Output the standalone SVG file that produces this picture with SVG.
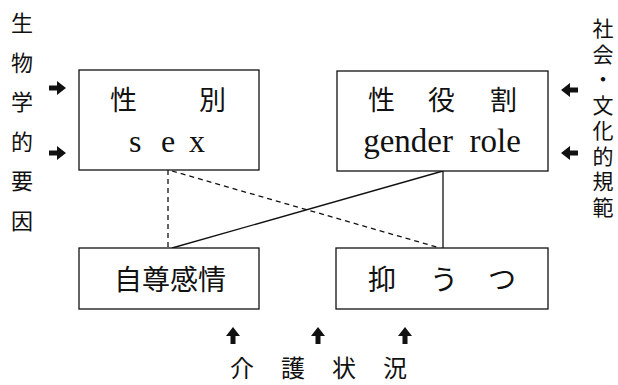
<svg xmlns="http://www.w3.org/2000/svg" width="618" height="385" viewBox="0 0 618 385">
<defs>
<style>
.box{fill:#fff;stroke:#111;stroke-width:1.3}
.jp{font-family:"Noto Sans CJK JP","Noto Sans",sans-serif;fill:#111}
.vt{writing-mode:vertical-rl}
.lat{font-family:"Liberation Serif",serif;fill:#111}
.ln{stroke:#111;stroke-width:1.3;fill:none}
.dash{stroke-dasharray:5 4}
.arr{fill:#111}
</style>
<path id="ar" d="M0,-2.5 H8 V-7 L17,0 L8,7 V2.5 H0 Z"/>
</defs>
<g id="connectors">
<line class="ln dash" x1="168" y1="170" x2="168" y2="248"/>
<line class="ln dash" x1="172" y1="171" x2="440" y2="248"/>
<line class="ln" x1="172" y1="248" x2="443" y2="171"/>
<line class="ln" x1="443" y1="171" x2="443" y2="248"/>
</g>
<g id="sex">
<rect class="box" x="79" y="70" width="180" height="100"/>
<text class="jp" x="110" y="110" font-size="27">性</text>
<text class="jp" x="199" y="110" font-size="27">別</text>
<text class="lat" font-size="32" y="152"><tspan x="129">s</tspan><tspan x="161">e</tspan><tspan x="189">x</tspan></text>
</g>
<g id="gender">
<rect class="box" x="337" y="71" width="211" height="100"/>
<text class="jp" x="368" y="110" font-size="27">性</text>
<text class="jp" x="428" y="110" font-size="27">役</text>
<text class="jp" x="490" y="110" font-size="27">割</text>
<text class="lat" x="442" y="152" font-size="33" text-anchor="middle" xml:space="preserve">gender  role</text>
</g>
<g id="selfesteem">
<rect class="box" x="79" y="248" width="180" height="61"/>
<text class="jp" x="170" y="290" font-size="28" text-anchor="middle">自尊感情</text>
</g>
<g id="depression">
<rect class="box" x="336" y="248" width="212" height="61"/>
<text class="jp" x="368" y="290" font-size="28">抑</text>
<text class="jp" x="430" y="290" font-size="28">う</text>
<text class="jp" x="488" y="290" font-size="28">つ</text>
</g>
<g id="bio">
<text class="jp vt" font-size="22" x="22" y="12" letter-spacing="17.5">生物学的要因</text>
<use href="#ar" class="arr" x="49" y="88"/>
<use href="#ar" class="arr" x="49" y="153"/>
</g>
<g id="social">
<text class="jp vt" font-size="21" x="603" y="18" letter-spacing="4.5">社会・文化的規範</text>
<use href="#ar" class="arr" transform="translate(578,90) scale(-1,1)"/>
<use href="#ar" class="arr" transform="translate(578,153) scale(-1,1)"/>
</g>
<g id="care">
<use href="#ar" class="arr" transform="translate(233,344) rotate(-90)"/>
<use href="#ar" class="arr" transform="translate(318,344) rotate(-90)"/>
<use href="#ar" class="arr" transform="translate(405,344) rotate(-90)"/>
<text class="jp" font-size="24" y="377"><tspan x="230">介</tspan><tspan x="281">護</tspan><tspan x="332">状</tspan><tspan x="383">況</tspan></text>
</g>
</svg>
